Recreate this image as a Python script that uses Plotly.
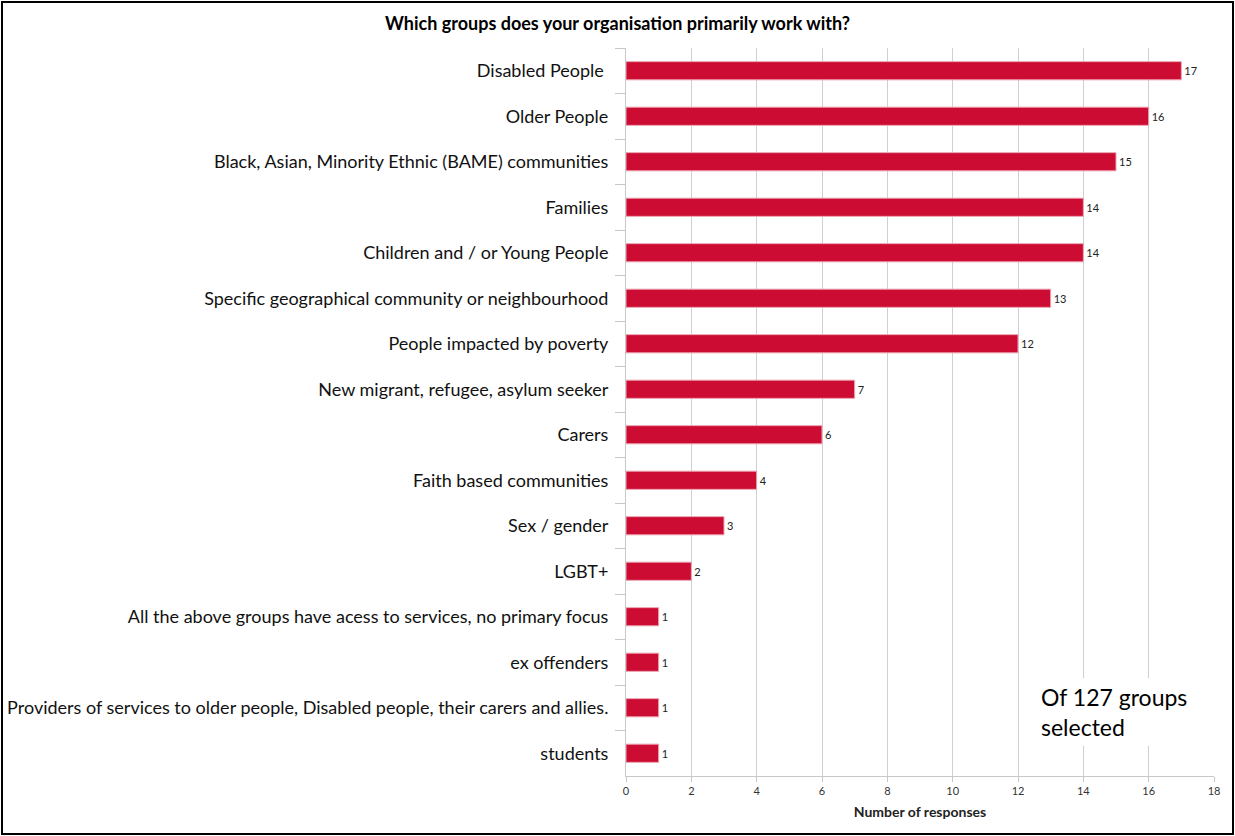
import plotly.graph_objects as go

categories = [
    "Disabled People ",
    "Older People",
    "Black, Asian, Minority Ethnic (BAME) communities",
    "Families",
    "Children and / or Young People",
    "Specific geographical community or neighbourhood",
    "People impacted by poverty",
    "New migrant, refugee, asylum seeker",
    "Carers",
    "Faith based communities",
    "Sex / gender",
    "LGBT+",
    "All the above groups have acess to services, no primary focus",
    "ex offenders",
    "Providers of services to older people, Disabled people, their carers and allies.",
    "students",
]
values = [17, 16, 15, 14, 14, 13, 12, 7, 6, 4, 3, 2, 1, 1, 1, 1]
x_ticks = [0, 2, 4, 6, 8, 10, 12, 14, 16, 18]

W, H = 1235, 836
L, R, T, B = 626, 1214, 48, 776
pw, ph = R - L, B - T

def px(x):
    return (x - L) / pw

def py(y):
    return (B - y) / ph

FONT = "Lato"

fig = go.Figure(go.Bar(
    x=values, y=categories, orientation="h",
    marker=dict(color="#CC0C33", line=dict(color="#EBA5B2", width=1)),
    text=[str(v) for v in values], textposition="outside",
    textfont=dict(family=FONT, size=11, color="#222222"),
    cliponaxis=False,
    width=0.4,
))

fig.update_layout(
    width=W, height=H,
    margin=dict(l=L, r=W - R, t=T, b=H - B),
    paper_bgcolor="white", plot_bgcolor="white",
    showlegend=False,
    title=dict(text="<b>Which groups does your organisation primarily work with?</b>",
               x=0.5, xanchor="center", y=1 - 24 / H, yanchor="middle",
               font=dict(family=FONT, size=18, color="black")),
    font=dict(family=FONT),
)

fig.update_xaxes(
    range=[0, 18], tickvals=x_ticks, ticktext=[str(t) for t in x_ticks],
    showgrid=True, gridcolor="#D0D0D0", gridwidth=1,
    showline=True, linecolor="#C8C8C8", linewidth=1,
    ticks="outside", ticklen=5, tickcolor="#C8C8C8",
    tickfont=dict(family=FONT, size=11, color="#333333"),
    title=dict(text="<b>Number of responses</b>", standoff=10,
               font=dict(family=FONT, size=14, color="#222222")),
    zeroline=False, automargin=False,
)
fig.update_yaxes(
    autorange="reversed", type="category",
    showline=True, linecolor="#C8C8C8", linewidth=1,
    ticks="outside", ticklen=10, tickcolor="#C8C8C8", tickson="boundaries",
    tickfont=dict(family=FONT, size=18, color="#111111"),
    ticklabelstandoff=13,
    showgrid=False, automargin=False,
)

fig.add_annotation(
    text="Of 127 groups<br>selected", xref="x", yref="paper",
    x=12.55, y=py(712), xanchor="left", yanchor="middle", align="left",
    showarrow=False, bgcolor="white", borderpad=4,
    font=dict(family=FONT, size=23, color="black"),
)

fig.add_shape(type="rect", xref="paper", yref="paper",
              x0=px(2), x1=px(1233), y0=py(834), y1=py(2),
              line=dict(color="black", width=2), fillcolor="rgba(0,0,0,0)", layer="above")

fig.write_html("out.html", config={"displayModeBar": False},
               post_script="document.body.style.margin='0';document.body.style.overflow='hidden';")
